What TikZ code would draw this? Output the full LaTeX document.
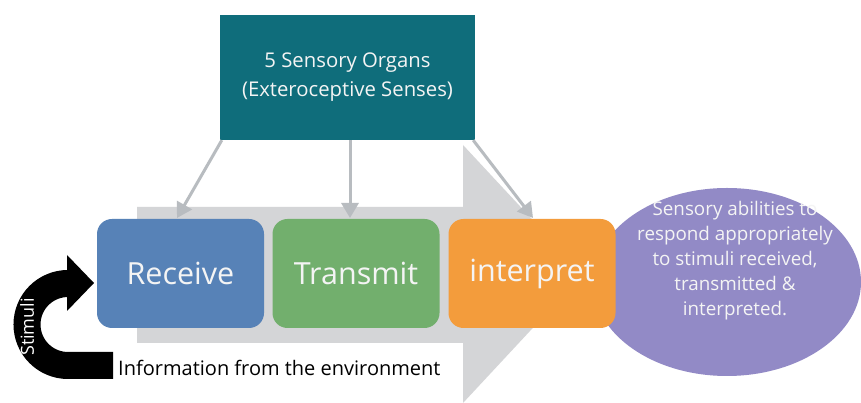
\documentclass[tikz,border=0pt]{standalone}
\usepackage{fontspec}
\setmainfont{Open Sans}
\usetikzlibrary{arrows.meta}
\definecolor{organteal}{HTML}{0F6D7B}
\definecolor{recvblue}{HTML}{5782B7}
\definecolor{transgreen}{HTML}{72AF6D}
\definecolor{interporange}{HTML}{F39C3C}
\definecolor{abilpurple}{HTML}{928AC6}
\definecolor{flowgray}{HTML}{D4D5D7}
\definecolor{linkgray}{HTML}{B8BCC0}
\definecolor{softwhite}{HTML}{F4F4F4}
\tikzset{
  stagebox/.style={draw=none, rounded corners=15pt, minimum width=167pt,
    minimum height=109pt, inner sep=0pt, text=softwhite,
    font=\fontsize{30.5}{34}\selectfont},
  linkarrow/.style={draw=linkgray, line width=3pt,
    -{Triangle[width=17pt,length=15pt]}}
}
\begin{document}
\begin{tikzpicture}[x=1pt,y=1pt]
\useasboundingbox[fill=white] (0,0) rectangle (861,403);

% broad gray flow arrow behind the stages
\fill[flowgray] (137,60) -- (137,196) -- (463,196) -- (463,258)
  -- (583,129) -- (463,0) -- (463,60) -- cycle;

% outcome ellipse, partly covered by the last stage
\fill[abilpurple] (727,121) ellipse [x radius=134, y radius=94];
\node[text=softwhite, align=center, font=\fontsize{18.8}{25}\selectfont,
  inner sep=0pt] (abilities) at (735,142)
  {Sensory abilities to\\respond appropriately\\to stimuli received,\\transmitted \&\\interpreted.};

% top source box
\node[fill=organteal, minimum width=255pt, minimum height=125pt, inner sep=0pt,
  text=softwhite, align=center, font=\fontsize{20.3}{29}\selectfont]
  (organs) at (347.5,325.5) {5 Sensory Organs\\(Exteroceptive Senses)};

% three stages
\node[stagebox, fill=recvblue] (receive) at (180.5,129.5) {Receive};
\node[stagebox, fill=transgreen] (transmit) at (356,129.5) {Transmit};
\node[stagebox, fill=interporange] (interpret) at (532,129.5) {interpret};

% links from the organs to each stage
\coordinate (recvtip) at (177,185);
\coordinate (transtip) at (350,185);
\coordinate (interptip) at (533,185);
\draw[linkarrow] (organs.south west) ++(2,0) -- (recvtip);
\draw[linkarrow] (organs.south -| transtip) -- (transtip);
\draw[linkarrow] (organs.south east) ++(-2,0) -- (interptip);

% curved stimuli arrow
\coordinate (stimstart) at (113,37.5);
\draw[black, line width=27pt] (stimstart) -- (68,37.5)
  arc[start angle=270, end angle=90, radius=41];
\fill[black] (67,148) -- (94,120) -- (67,92) -- cycle;
\node[rotate=90, text=white, font=\fontsize{18}{20}\selectfont, inner sep=0pt]
  (stimuli) at (27,76) {Stimuli};

% caption under the flow
\node[anchor=west, inner sep=0pt, font=\fontsize{20}{24}\selectfont]
  (environment) at (118,35) {Information from the environment};
\end{tikzpicture}
\end{document}
